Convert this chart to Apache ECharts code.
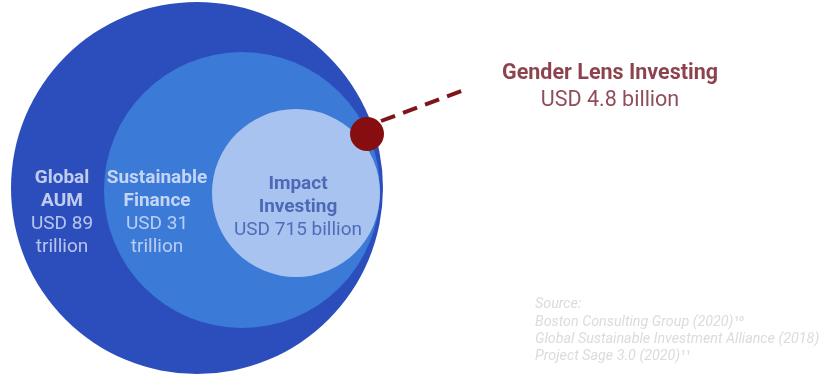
<!DOCTYPE html>
<html>
<head>
<meta charset="utf-8">
<script src="https://cdn.jsdelivr.net/npm/echarts@6/dist/echarts.min.js"></script>
<style>
  html, body { margin: 0; padding: 0; background: #ffffff; }
  #chart { width: 825px; height: 377px; }
</style>
</head>
<body>
<div id="chart"></div>
<script>
// Nested market segments and their sizes
const categories = ['Global AUM', 'Sustainable Finance', 'Impact Investing', 'Gender Lens Investing'];
const amounts = [89, 31, 715, 4.8];
const units = ['trillion', 'trillion', 'billion', 'billion'];
const currency = 'USD';
const sourceTitle = 'Source:';
const sources = [
  'Boston Consulting Group (2020)¹⁰',
  'Global Sustainable Investment Alliance (2018)',
  'Project Sage 3.0 (2020)¹¹'
];

// Diagram geometry in plot units (the hidden axes span the canvas 1:1)
const layout = [
  { cx: 197, cy: 188, r: 186, color: '#2c4ebd', label: [62, 213], breakName: true, breakValue: true, style: 'light' },
  { cx: 242, cy: 190, r: 138, color: '#3c7ad8', label: [157, 213], breakName: true, breakValue: true, style: 'light' },
  { cx: 296, cy: 193, r: 84, color: '#a9c3f1', label: [298, 207], breakName: true, breakValue: false, style: 'dark' },
  { cx: 367, cy: 134, r: 17, color: '#860e10', label: [610, 87], breakName: false, breakValue: false, style: 'accent' }
];
const leader = [[381, 121], [467, 89]];
const sourceAnchor = [535, 296];

function valueText(i) {
  return layout[i].breakValue
    ? currency + ' ' + amounts[i] + '\n' + units[i]
    : currency + ' ' + amounts[i] + ' ' + units[i];
}

function labelText(i) {
  const s = layout[i].style;
  const nameLines = layout[i].breakName ? categories[i].split(' ') : [categories[i]];
  const valLines = valueText(i).split('\n');
  return nameLines.map(t => '{' + s + 'N|' + t + '}')
    .concat(valLines.map(t => '{' + s + 'V|' + t + '}'))
    .join('\n');
}

const font = 'Roboto, "Noto Sans", sans-serif';
const rich = {
  lightN: { fontFamily: font, fontSize: 19, fontWeight: 'bold', color: '#e6ecfa', lineHeight: 23, align: 'center' },
  lightV: { fontFamily: font, fontSize: 19, color: '#d9e2f7', lineHeight: 23, align: 'center' },
  darkN: { fontFamily: font, fontSize: 19, fontWeight: 'bold', color: '#3652a8', lineHeight: 23, align: 'center' },
  darkV: { fontFamily: font, fontSize: 19, color: '#3a56aa', lineHeight: 23, align: 'center' },
  accentN: { fontFamily: font, fontSize: 21.5, fontWeight: 'bold', color: '#6f1422', lineHeight: 27, align: 'center' },
  accentV: { fontFamily: font, fontSize: 21.5, color: '#742030', lineHeight: 27, align: 'center' },
  src: { fontFamily: font, fontSize: 14.3, fontStyle: 'italic', color: '#d2d2d2', lineHeight: 17.3, align: 'left' }
};

const circleData = layout.map((g, i) => ({
  name: categories[i],
  value: [g.cx, g.cy],
  symbolSize: g.r * 2,
  itemStyle: { color: g.color }
}));

const labelData = layout.map((g, i) => ({
  name: categories[i],
  value: g.label,
  label: {
    show: true,
    position: 'inside',
    align: 'center',
    verticalAlign: 'middle',
    formatter: labelText(i),
    rich: rich
  }
}));

const sourceText = [sourceTitle].concat(sources).map(t => '{src|' + t + '}').join('\n');

const chart = echarts.init(document.getElementById('chart'), null, { renderer: 'canvas' });
chart.setOption({
  backgroundColor: '#ffffff',
  animation: false,
  grid: { left: 0, right: 0, top: 0, bottom: 0 },
  xAxis: { type: 'value', min: 0, max: 825, show: false },
  yAxis: { type: 'value', min: 0, max: 377, inverse: true, show: false },
  series: [
    {
      name: 'leader',
      type: 'line',
      data: leader,
      symbol: 'none',
      silent: true,
      z: 1,
      lineStyle: { color: '#7e1519', width: 4, type: [15, 8.5], cap: 'butt' }
    },
    {
      name: 'segments',
      type: 'scatter',
      data: circleData,
      silent: true,
      z: 2,
      itemStyle: { opacity: 1 }
    },
    {
      name: 'labels',
      type: 'scatter',
      data: labelData,
      symbolSize: 0,
      silent: true,
      z: 3
    },
    {
      name: 'source',
      type: 'scatter',
      data: [{ value: sourceAnchor }],
      symbolSize: 0,
      silent: true,
      z: 3,
      label: {
        show: true,
        position: 'inside',
        align: 'left',
        verticalAlign: 'top',
        formatter: sourceText,
        rich: rich
      }
    }
  ]
});
</script>
</body>
</html>
